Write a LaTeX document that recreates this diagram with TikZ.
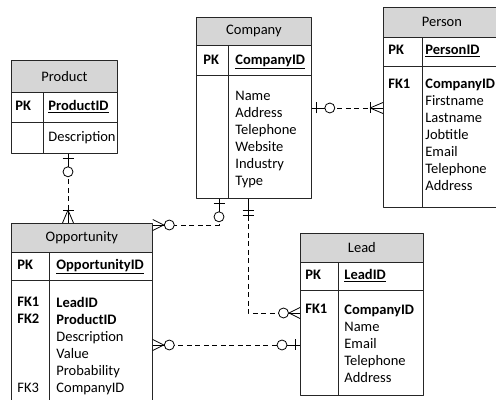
\documentclass[tikz,border=0pt]{standalone}
\usepackage{fontspec}
\setmainfont{Carlito}
\usetikzlibrary{calc}
\definecolor{headcol}{rgb}{0.84,0.84,0.84}
\definecolor{linecol}{rgb}{0.15,0.15,0.15}
\tikzset{
  tbl/.style={draw=linecol,rectangle,inner sep=0pt,anchor=north west},
  head/.style={tbl,fill=headcol},
  txt/.style={anchor=base west,inner sep=0pt,align=left},
  rel/.style={dash pattern=on 5bp off 3.5bp},
  zeroone/.pic={\draw (0,0) -- (13bp,0);
    \draw (5bp,-5.5bp) -- (5bp,5.5bp);
    \draw [fill=white] (18bp,0) circle (5bp);},
  onemany/.pic={\draw (0,0) -- (13bp,0);
    \draw (0,5.5bp) -- (13bp,0) -- (0,-5.5bp);
    \draw (13bp,-5.5bp) -- (13bp,5.5bp);},
  zeromany/.pic={\draw (0,0) -- (12bp,0);
    \draw (0,5.5bp) -- (11bp,0) -- (0,-5.5bp);
    \draw [fill=white] (16.5bp,0) circle (5bp);},
  oneone/.pic={\draw (0,0) -- (17bp,0);
    \draw (12bp,-5.5bp) -- (12bp,5.5bp);
    \draw (17bp,-5.5bp) -- (17bp,5.5bp);},
}
\begin{document}
\begin{tikzpicture}[line width=0.8bp,line join=bevel,font=\fontsize{14.5bp}{17bp}\selectfont]
\useasboundingbox (0bp,0bp) rectangle (496bp,400bp);
%% Company
\node (company) at (196bp,383bp) [head,minimum width=115bp,minimum height=28bp] {Company};
  \node (company-pkk) at (196bp,355bp) [tbl,minimum width=32bp,minimum height=30bp] {};
  \node (company-pkf) at (228bp,355bp) [tbl,minimum width=83bp,minimum height=30bp] {};
  \node (company-bk) at (196bp,325bp) [tbl,minimum width=32bp,minimum height=123bp] {};
  \node (company-bf) at (228bp,325bp) [tbl,minimum width=83bp,minimum height=123bp] {};
  \node (company-pk) at (203bp,335bp) [txt] {\textbf{PK}};
  \node (company-id) at (235bp,335bp) [txt] {\underline{\textbf{CompanyID}}};
  % multi-line texts sit on the baseline of their last line
  \node (company-fields) at (235bp,214bp) [txt] {Name\\Address\\Telephone\\Website\\Industry\\Type};
%% Person
\node (person) at (383bp,393bp) [head,minimum width=117bp,minimum height=30bp] {Person};
  \node (person-pkk) at (383bp,363bp) [tbl,minimum width=39bp,minimum height=29bp] {};
  \node (person-pkf) at (422bp,363bp) [tbl,minimum width=78bp,minimum height=29bp] {};
  \node (person-bk) at (383bp,334bp) [tbl,minimum width=39bp,minimum height=141bp] {};
  \node (person-bf) at (422bp,334bp) [tbl,minimum width=78bp,minimum height=141bp] {};
  \node (person-pk) at (388bp,345bp) [txt] {\textbf{PK}};
  \node (person-id) at (425bp,345bp) [txt] {\underline{\textbf{PersonID}}};
  \node (person-fk) at (388bp,311bp) [txt] {\textbf{FK1}};
  \node (person-fields) at (425bp,209bp) [txt] {\textbf{CompanyID}\\Firstname\\Lastname\\Jobtitle\\Email\\Telephone\\Address};
%% Product
\node (product) at (11bp,340bp) [head,minimum width=106bp,minimum height=32bp] {Product};
  \node (product-pkk) at (11bp,308bp) [tbl,minimum width=32bp,minimum height=30bp] {};
  \node (product-pkf) at (43bp,308bp) [tbl,minimum width=74bp,minimum height=30bp] {};
  \node (product-bk) at (11bp,278bp) [tbl,minimum width=32bp,minimum height=31bp] {};
  \node (product-bf) at (43bp,278bp) [tbl,minimum width=74bp,minimum height=31bp] {};
  \node (product-pk) at (15bp,289bp) [txt] {\textbf{PK}};
  \node (product-id) at (48bp,289bp) [txt] {\underline{\textbf{ProductID}}};
  \node (product-fields) at (48bp,258bp) [txt] {Description};
%% Opportunity
\node (opportunity) at (11bp,177bp) [head,minimum width=141bp,minimum height=29bp] {Opportunity};
  \node (opportunity-pkk) at (11bp,148bp) [tbl,minimum width=38bp,minimum height=28bp] {};
  \node (opportunity-pkf) at (49bp,148bp) [tbl,minimum width=103bp,minimum height=28bp] {};
  \node (opportunity-bk) at (11bp,120bp) [tbl,minimum width=38bp,minimum height=125bp] {};
  \node (opportunity-bf) at (49bp,120bp) [tbl,minimum width=103bp,minimum height=125bp] {};
  \node (opportunity-pk) at (17bp,130bp) [txt] {\textbf{PK}};
  \node (opportunity-id) at (56bp,130bp) [txt] {\underline{\textbf{OpportunityID}}};
  \node (opportunity-fk) at (17bp,76bp) [txt] {\textbf{FK1}\\\textbf{FK2}};
  \node (opportunity-fk3) at (17bp,8bp) [txt] {FK3};
  \node (opportunity-fields) at (56bp,8bp) [txt] {\textbf{LeadID}\\\textbf{ProductID}\\Description\\Value\\Probability\\CompanyID};
%% Lead
\node (lead) at (300bp,167bp) [head,minimum width=123bp,minimum height=29bp] {Lead};
  \node (lead-pkk) at (300bp,138bp) [tbl,minimum width=38bp,minimum height=28bp] {};
  \node (lead-pkf) at (338bp,138bp) [tbl,minimum width=85bp,minimum height=28bp] {};
  \node (lead-bk) at (300bp,110bp) [tbl,minimum width=38bp,minimum height=105bp] {};
  \node (lead-bf) at (338bp,110bp) [tbl,minimum width=85bp,minimum height=105bp] {};
  \node (lead-pk) at (305bp,120bp) [txt] {\textbf{PK}};
  \node (lead-id) at (344bp,120bp) [txt] {\underline{\textbf{LeadID}}};
  \node (lead-fk) at (305bp,86bp) [txt] {\textbf{FK1}};
  \node (lead-fields) at (344bp,18bp) [txt] {\textbf{CompanyID}\\Name\\Email\\Telephone\\Address};
%% relations
\draw [rel] ($(company-bf.north east)+(0,-33bp)$) coordinate (c-p1) -- ($(person-bk.north west)+(0,-42bp)$) coordinate (c-p2);
  \draw [rel] ($(company-bk.south west)+(23bp,0)$) coordinate (c-o1) |- ($(opportunity.north east)+(0,-2bp)$) coordinate (c-o2);
  \draw [rel] ($(company-bf.south west)+(20bp,0)$) coordinate (c-l1) |- ($(lead-bk.north west)+(0,-23bp)$) coordinate (c-l2);
  \draw [rel] ($(opportunity-bf.north east)+(0,-65bp)$) coordinate (o-l1) -- ($(lead-bk.north west)+(0,-55bp)$) coordinate (o-l2);
  \draw [rel] ($(product-bf.south west)+(25bp,0)$) coordinate (p-o1) -- ($(opportunity.north west)+(57bp,0)$) coordinate (p-o2);
  \pic at (c-p1) {zeroone};
  \pic [rotate=180] at (c-p2) {onemany};
  \pic [rotate=-90] at (c-o1) {zeroone};
  \pic at (c-o2) {zeromany};
  \pic [rotate=-90] at (c-l1) {oneone};
  \pic [rotate=180] at (c-l2) {zeromany};
  \pic at (o-l1) {zeromany};
  \pic [rotate=180] at (o-l2) {zeroone};
  \pic [rotate=-90] at (p-o1) {zeroone};
  \pic [rotate=90] at (p-o2) {onemany};
%
\end{tikzpicture}
\end{document}
